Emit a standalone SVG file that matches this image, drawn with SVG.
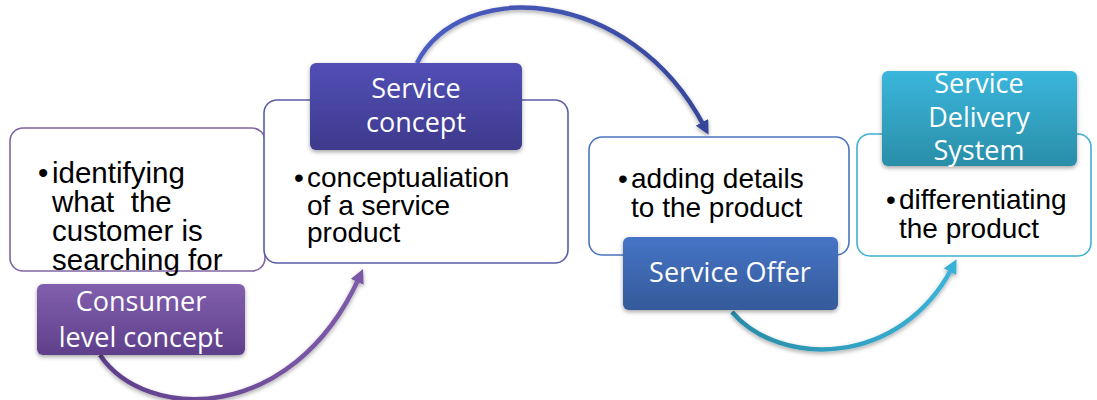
<svg xmlns="http://www.w3.org/2000/svg" width="1097" height="400" viewBox="0 0 1097 400">
<style>
.box{fill:#fff;stroke-width:1.6}
.bt{font-family:"Liberation Sans",Arial,sans-serif;font-size:28px;fill:#000;white-space:pre}
.lt{font-family:"Open Sans","Noto Sans",sans-serif;font-size:27px;fill:#fff;text-anchor:middle}
.arc{fill:none;stroke-width:4.5}
</style>
<defs>
<linearGradient id="gPurple" x1="0" y1="0" x2="0" y2="1"><stop offset="0" stop-color="#8160AE"/><stop offset="1" stop-color="#5F3F8B"/></linearGradient>
<linearGradient id="gIndigo" x1="0" y1="0" x2="0" y2="1"><stop offset="0" stop-color="#524FB6"/><stop offset="1" stop-color="#3E3A8C"/></linearGradient>
<linearGradient id="gBlue" x1="0" y1="0" x2="0" y2="1"><stop offset="0" stop-color="#4674C6"/><stop offset="1" stop-color="#345A99"/></linearGradient>
<linearGradient id="gTeal" x1="0" y1="0" x2="0" y2="1"><stop offset="0" stop-color="#3AB6DC"/><stop offset="1" stop-color="#2A8EA8"/></linearGradient>
<linearGradient id="aPurple" gradientUnits="userSpaceOnUse" x1="100" y1="0" x2="360" y2="0"><stop offset="0" stop-color="#5E3F8B"/><stop offset="1" stop-color="#7E5BAA"/></linearGradient>
<linearGradient id="aBlue" gradientUnits="userSpaceOnUse" x1="417" y1="0" x2="707" y2="0"><stop offset="0" stop-color="#4B5EC4"/><stop offset="1" stop-color="#36479A"/></linearGradient>
<linearGradient id="aTeal" gradientUnits="userSpaceOnUse" x1="732" y1="0" x2="957" y2="0"><stop offset="0" stop-color="#2A8CA6"/><stop offset="1" stop-color="#3AB4DA"/></linearGradient>
<marker id="mPurple" viewBox="0 0 10 10" refX="3" refY="5" markerWidth="14" markerHeight="14" markerUnits="userSpaceOnUse" orient="auto"><path d="M0,0 L10,5 L0,10 z" fill="#7A58A6"/></marker>
<marker id="mBlue" viewBox="0 0 10 10" refX="3" refY="5" markerWidth="14" markerHeight="14" markerUnits="userSpaceOnUse" orient="auto"><path d="M0,0 L10,5 L0,10 z" fill="#36479A"/></marker>
<marker id="mTeal" viewBox="0 0 10 10" refX="3" refY="5" markerWidth="14" markerHeight="14" markerUnits="userSpaceOnUse" orient="auto"><path d="M0,0 L10,5 L0,10 z" fill="#38B1D6"/></marker>
<filter id="sh" x="-10%" y="-10%" width="120%" height="130%"><feDropShadow dx="0" dy="2" stdDeviation="2" flood-color="#000" flood-opacity="0.35"/></filter>
</defs>

<g id="connectors">
<path class="arc" d="M100,355 C145,422 292,425 359,278" stroke="url(#aPurple)" marker-end="url(#mPurple)" filter="url(#sh)"/>
<path class="arc" d="M417,63 C460,-22 630,-15 704,126" stroke="url(#aBlue)" marker-end="url(#mBlue)" filter="url(#sh)"/>
<path class="arc" d="M732,312 C780,368 900,367 952,268" stroke="url(#aTeal)" marker-end="url(#mTeal)" filter="url(#sh)"/>
</g>

<g id="node1">
<rect class="box" x="10" y="128" width="255" height="143" rx="13" stroke="#8064A2"/>
<text class="bt" style="font-size:29.5px"><tspan x="38" y="183">•</tspan><tspan x="52" y="183">identifying</tspan><tspan x="52" y="212">what  the</tspan><tspan x="52" y="241">customer is</tspan><tspan x="52" y="270">searching for</tspan></text>
</g>
<g id="label1">
<rect x="37" y="284" width="208" height="71" rx="6" fill="url(#gPurple)" filter="url(#sh)"/>
<text class="lt"><tspan x="141" y="311">Consumer</tspan><tspan x="141" y="347">level concept</tspan></text>
</g>

<g id="node2">
<rect class="box" x="264" y="100" width="304" height="163" rx="13" stroke="#5B5BA8"/>
<text class="bt"><tspan x="294" y="187">•</tspan><tspan x="307" y="187">conceptualiation</tspan><tspan x="307" y="214.5">of a service</tspan><tspan x="307" y="242">product</tspan></text>
</g>
<g id="label2">
<rect x="310" y="63" width="212" height="87" rx="6" fill="url(#gIndigo)" filter="url(#sh)"/>
<text class="lt"><tspan x="416" y="98">Service</tspan><tspan x="416" y="132">concept</tspan></text>
</g>

<g id="node3">
<rect class="box" x="589" y="137" width="260" height="118" rx="13" stroke="#4A74BD"/>
<text class="bt"><tspan x="618" y="188">•</tspan><tspan x="631" y="188">adding details</tspan><tspan x="631" y="217">to the product</tspan></text>
</g>
<g id="label3">
<rect x="623" y="237" width="215" height="73" rx="6" fill="url(#gBlue)" filter="url(#sh)"/>
<text class="lt" x="730" y="282">Service Offer</text>
</g>

<g id="node4">
<rect class="box" x="857" y="134" width="234" height="122" rx="13" stroke="#41B0D1"/>
<text class="bt"><tspan x="886" y="209">•</tspan><tspan x="899" y="209">differentiating</tspan><tspan x="899" y="238">the product</tspan></text>
</g>
<g id="label4">
<rect x="882" y="71" width="195" height="95" rx="6" fill="url(#gTeal)" filter="url(#sh)"/>
<text class="lt"><tspan x="979" y="93">Service</tspan><tspan x="979" y="127">Delivery</tspan><tspan x="979" y="160">System</tspan></text>
</g>
</svg>
